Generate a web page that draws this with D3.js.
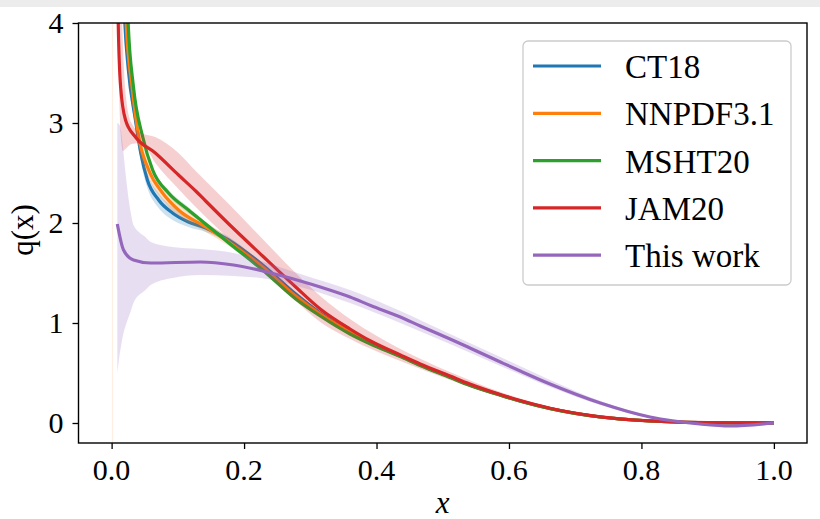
<!DOCTYPE html>
<html>
<head>
<meta charset="utf-8">
<script src="https://cdn.jsdelivr.net/npm/d3@7"></script>
</head>
<body style="margin:0">
<svg id="chart" width="820" height="519" style="display:block"></svg>
<script>
(function() {
    'use strict';

    // --- data ---
    var xTicks = [0.0, 0.2, 0.4, 0.6, 0.8, 1.0];
    var yTicks = [0, 1, 2, 3, 4];
    var labels = ['CT18', 'NNPDF3.1', 'MSHT20', 'JAM20', 'This work'];
    var colors = ['#1f77b4', '#ff7f0e', '#2ca02c', '#d62728', '#9467bd'];

    var ct18X  = [0.015, 0.020, 0.025, 0.036, 0.044, 0.054, 0.071, 0.092, 0.116, 0.142, 0.177, 0.228, 0.278, 0.315, 0.36, 0.391, 0.436, 0.466, 0.511, 0.541, 0.587, 0.617, 0.662, 0.738, 0.813, 0.9, 1.0];
    var ct18Y  = [5.0, 4.0, 3.55, 3.03, 2.70, 2.43, 2.23, 2.10, 2.01, 1.95, 1.83, 1.58, 1.29, 1.10, 0.91, 0.80, 0.67, 0.58, 0.46, 0.38, 0.28, 0.22, 0.145, 0.06, 0.02, 0.004, 0];
    var ct18Lo = [4.8, 3.85, 3.45, 2.95, 2.62, 2.35, 2.15, 2.03, 1.96, 1.91, 1.80, 1.56, 1.27, 1.09, 0.90, 0.79, 0.66, 0.575, 0.455, 0.375, 0.276, 0.217, 0.142, 0.058, 0.018, 0.003, 0];
    var ct18Hi = [5.2, 4.15, 3.65, 3.10, 2.77, 2.50, 2.30, 2.16, 2.06, 1.99, 1.86, 1.60, 1.31, 1.11, 0.92, 0.81, 0.68, 0.585, 0.465, 0.385, 0.284, 0.223, 0.148, 0.062, 0.022, 0.005, 0];

    var nnpdfX  = [0.017, 0.022, 0.031, 0.041, 0.056, 0.077, 0.101, 0.142, 0.177, 0.228, 0.278, 0.315, 0.36, 0.391, 0.436, 0.466, 0.511, 0.541, 0.587, 0.617, 0.662, 0.738, 0.813, 0.9, 1.0];
    var nnpdfY  = [5.0, 4.0, 3.36, 2.86, 2.53, 2.30, 2.13, 1.96, 1.81, 1.56, 1.27, 1.09, 0.91, 0.80, 0.67, 0.58, 0.46, 0.38, 0.28, 0.22, 0.145, 0.06, 0.02, 0.004, 0];
    var nnpdfLo = [4.7, 3.8, 3.2, 2.75, 2.45, 2.23, 2.07, 1.91, 1.77, 1.53, 1.25, 1.07, 0.895, 0.79, 0.66, 0.572, 0.453, 0.374, 0.275, 0.216, 0.141, 0.057, 0.017, 0.003, 0];
    var nnpdfHi = [5.4, 4.3, 3.55, 3.0, 2.62, 2.37, 2.19, 2.01, 1.85, 1.59, 1.29, 1.11, 0.925, 0.81, 0.68, 0.588, 0.467, 0.386, 0.285, 0.224, 0.149, 0.063, 0.023, 0.005, 0];

    var mshtX  = [0.020, 0.025, 0.033, 0.047, 0.062, 0.086, 0.116, 0.142, 0.177, 0.228, 0.278, 0.315, 0.36, 0.391, 0.436, 0.466, 0.511, 0.541, 0.587, 0.617, 0.662, 0.738, 0.813, 0.9, 1.0];
    var mshtY  = [5.0, 4.0, 3.36, 2.86, 2.53, 2.30, 2.13, 1.99, 1.80, 1.53, 1.24, 1.07, 0.89, 0.79, 0.665, 0.575, 0.455, 0.375, 0.278, 0.218, 0.144, 0.06, 0.02, 0.004, 0];
    var mshtLo = [4.9, 3.93, 3.31, 2.82, 2.50, 2.27, 2.10, 1.97, 1.78, 1.51, 1.23, 1.06, 0.88, 0.78, 0.66, 0.57, 0.45, 0.37, 0.275, 0.215, 0.141, 0.058, 0.018, 0.003, 0];
    var mshtHi = [5.1, 4.07, 3.41, 2.90, 2.56, 2.33, 2.16, 2.01, 1.82, 1.55, 1.25, 1.08, 0.90, 0.80, 0.67, 0.58, 0.46, 0.38, 0.281, 0.221, 0.147, 0.062, 0.022, 0.005, 0];

    var jamX  = [0.008, 0.010, 0.0136, 0.021, 0.036, 0.066, 0.101, 0.127, 0.142, 0.177, 0.228, 0.278, 0.315, 0.36, 0.391, 0.436, 0.466, 0.511, 0.541, 0.587, 0.617, 0.662, 0.738, 0.813, 0.9, 1.0];
    var jamY  = [5.0, 4.0, 3.36, 3.03, 2.86, 2.70, 2.48, 2.32, 2.22, 1.99, 1.67, 1.36, 1.14, 0.94, 0.82, 0.68, 0.59, 0.47, 0.39, 0.285, 0.225, 0.148, 0.062, 0.021, 0.004, 0];
    var jamBandX = [0.010, 0.0136, 0.017, 0.021, 0.03, 0.045, 0.066, 0.101, 0.127, 0.177, 0.228, 0.278, 0.315, 0.36, 0.436, 0.511, 0.587, 0.662, 0.75, 0.85, 1.0];
    var jamLo = [3.7, 2.9, 2.72, 2.74, 2.79, 2.80, 2.60, 2.34, 2.16, 1.84, 1.52, 1.22, 1.01, 0.84, 0.62, 0.43, 0.26, 0.135, 0.045, 0.01, 0];
    var jamHi = [6.0, 4.6, 3.8, 3.3, 3.0, 2.90, 2.86, 2.70, 2.52, 2.19, 1.84, 1.50, 1.27, 1.04, 0.74, 0.51, 0.31, 0.16, 0.06, 0.016, 0];

    var thisX  = [0.0086, 0.018, 0.033, 0.059, 0.134, 0.184, 0.235, 0.285, 0.315, 0.36, 0.391, 0.436, 0.466, 0.511, 0.541, 0.587, 0.617, 0.662, 0.738, 0.813, 0.888, 0.934, 1.0];
    var thisY  = [1.99, 1.73, 1.63, 1.60, 1.61, 1.58, 1.51, 1.42, 1.36, 1.26, 1.175, 1.06, 0.97, 0.84, 0.75, 0.61, 0.52, 0.39, 0.20, 0.06, -0.01, -0.03, 0];
    var thisBandX = [0.0086, 0.012, 0.014, 0.018, 0.021, 0.029, 0.033, 0.051, 0.059, 0.092, 0.134, 0.184, 0.235, 0.285, 0.36, 0.436, 0.511, 0.587, 0.662, 0.738, 0.813, 0.888, 0.934, 1.0];
    var thisLo = [0.50, 0.68, 0.76, 0.90, 0.97, 1.12, 1.20, 1.33, 1.38, 1.45, 1.48, 1.47, 1.44, 1.36, 1.20, 1.00, 0.79, 0.57, 0.36, 0.18, 0.05, -0.02, -0.04, 0];
    var thisHi = [3.0, 2.98, 2.93, 2.7, 2.5, 2.1, 1.98, 1.86, 1.81, 1.76, 1.74, 1.70, 1.60, 1.49, 1.33, 1.12, 0.89, 0.66, 0.43, 0.22, 0.07, 0.00, -0.02, 0];

    // faint sliver of the small-x error bands hugging x = 0
    var sliverX  = [0.0005, 0.0022];
    var sliverLo = [-1, -1];
    var sliverHi = [30, 30];

    function zip(xs, ys) {
        return xs.map(function(x, i) { return { x: x, y: ys[i] }; });
    }
    function zipBand(xs, lo, hi) {
        return xs.map(function(x, i) { return { x: x, lo: lo[i], hi: hi[i] }; });
    }

    var series = [
        { line: zip(ct18X, ct18Y),   band: zipBand(ct18X, ct18Lo, ct18Hi) },
        { line: zip(nnpdfX, nnpdfY), band: zipBand(nnpdfX, nnpdfLo, nnpdfHi) },
        { line: zip(mshtX, mshtY),   band: zipBand(mshtX, mshtLo, mshtHi) },
        { line: zip(jamX, jamY),     band: zipBand(jamBandX, jamLo, jamHi) },
        { line: zip(thisX, thisY),   band: zipBand(thisBandX, thisLo, thisHi) }
    ];

    function setFont(sel, size) {
        return sel.attr('font-family', 'Liberation Serif')
            .attr('font-size', size)
            .attr('fill', '#000')
            .style('font-family', "'Liberation Serif'")
            .style('font-size', size + 'px');
    }

    var svg = d3.select('#chart');
    var left = 78.5, right = 807, top = 23, bottom = 443;

    var x = d3.scaleLinear().domain([-0.05, 1.05]).range([left, right]);
    var y = d3.scaleLinear().domain([-0.2, 4]).range([bottom, top]);

    // screenshot frame: grey strip on top
    svg.append('rect').attr('x', 0).attr('y', 0).attr('width', 820).attr('height', 7).attr('fill', '#ececec');

    var defs = svg.append('defs');
    defs.append('clipPath').attr('id', 'plot-clip')
        .append('rect')
        .attr('x', left).attr('y', top)
        .attr('width', right - left).attr('height', bottom - top);

    var plot = svg.append('g').attr('clip-path', 'url(#plot-clip)');

    var area = d3.area()
        .curve(d3.curveMonotoneX)
        .x(function(d) { return x(d.x); })
        .y0(function(d) { return y(d.lo); })
        .y1(function(d) { return y(d.hi); });

    var line = d3.line()
        .curve(d3.curveMonotoneX)
        .x(function(d) { return x(d.x); })
        .y(function(d) { return y(d.y); });

    plot.append('path')
        .attr('d', area(zipBand(sliverX, sliverLo, sliverHi)))
        .attr('fill', colors[1])
        .attr('fill-opacity', 0.12);

    series.forEach(function(s, i) {
        plot.append('path')
            .attr('d', area(s.band))
            .attr('fill', colors[i])
            .attr('fill-opacity', 0.22);
        plot.append('path')
            .attr('d', line(s.line))
            .attr('fill', 'none')
            .attr('stroke', colors[i])
            .attr('stroke-width', 3.2);
    });

    // axes: ticks from d3 axis, labels written as plain text
    var xAxis = svg.append('g')
        .attr('transform', 'translate(0,' + bottom + ')')
        .call(d3.axisBottom(x).tickValues(xTicks).tickFormat('').tickSize(6));
    xAxis.select('.domain').remove();
    xAxis.selectAll('line').attr('stroke', '#000').attr('stroke-width', 1.3);

    var yAxis = svg.append('g')
        .attr('transform', 'translate(' + left + ',0)')
        .call(d3.axisLeft(y).tickValues(yTicks).tickFormat('').tickSize(6));
    yAxis.select('.domain').remove();
    yAxis.selectAll('line').attr('stroke', '#000').attr('stroke-width', 1.3);

    svg.selectAll('text.xtick')
        .data(xTicks)
        .enter().append('text')
        .attr('class', 'xtick')
        .call(setFont, 30)
        .attr('x', function(d) { return x(d); })
        .attr('y', bottom + 37)
        .attr('text-anchor', 'middle')
        .text(d3.format('.1f'));

    svg.selectAll('text.ytick')
        .data(yTicks)
        .enter().append('text')
        .attr('class', 'ytick')
        .call(setFont, 30)
        .attr('x', left - 15)
        .attr('y', function(d) { return y(d); })
        .attr('dy', '0.34em')
        .attr('text-anchor', 'end')
        .text(d3.format('d'));

    svg.append('rect')
        .attr('x', left).attr('y', top)
        .attr('width', right - left).attr('height', bottom - top)
        .attr('fill', 'none')
        .attr('stroke', '#000')
        .attr('stroke-width', 1.4);

    // axis labels
    svg.append('text')
        .call(setFont, 31)
        .attr('font-style', 'italic')
        .attr('x', x(0.5)).attr('y', 513)
        .attr('text-anchor', 'middle')
        .text('x');

    svg.append('text')
        .call(setFont, 31)
        .attr('transform', 'translate(33,230) rotate(-90)')
        .attr('text-anchor', 'middle')
        .text('q(x)');

    // legend
    svg.append('rect')
        .attr('x', 523).attr('y', 41)
        .attr('width', 268).attr('height', 244)
        .attr('rx', 5)
        .attr('fill', '#fff').attr('fill-opacity', 0.8)
        .attr('stroke', '#cccccc').attr('stroke-width', 1.3);

    svg.selectAll('line.key')
        .data(labels)
        .enter().append('line')
        .attr('class', 'key')
        .attr('x1', 533).attr('x2', 601)
        .attr('y1', function(d, i) { return 66 + i * 47.3; })
        .attr('y2', function(d, i) { return 66 + i * 47.3; })
        .attr('stroke', function(d, i) { return colors[i]; })
        .attr('stroke-width', 3.2);

    svg.selectAll('text.key')
        .data(labels)
        .enter().append('text')
        .attr('class', 'key')
        .call(setFont, 33)
        .attr('x', 625)
        .attr('y', function(d, i) { return 78 + i * 47.3; })
        .text(function(d) { return d; });
}());
</script>
</body>
</html>
